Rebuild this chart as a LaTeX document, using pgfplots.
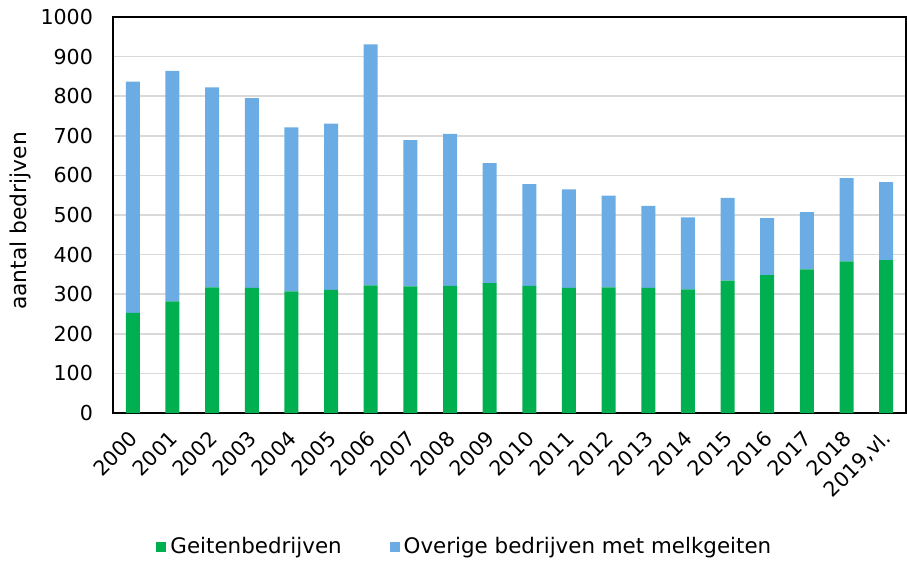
\documentclass[border=0pt]{standalone}
\usepackage{pgfplots}
\pgfplotsset{compat=1.18}
\usepackage{fontspec}
\setmainfont{DejaVu Sans}
\definecolor{geitgreen}{RGB}{0,176,80}
\definecolor{overblue}{RGB}{108,172,228}
\definecolor{gridgray}{RGB}{217,217,217}
\begin{document}
\begin{tikzpicture}
\begin{axis}[
  scale only axis,
  width=396.5pt, height=198pt,
  ybar stacked,
  bar width=7pt,
  xmin=-0.5, xmax=19.5,
  ymin=0, ymax=1000,
  ytick={0,100,...,1000},
  xtick=data,
  xticklabels={2000,2001,2002,2003,2004,2005,2006,2007,2008,2009,2010,2011,2012,2013,2014,2015,2016,2017,2018,{2019,vl.}},
  /pgf/number format/assume math mode=true,
  /pgf/number format/1000 sep={},
  major tick length=0pt,
  ymajorgrids,
  grid style={gridgray, line width=0.75pt},
  axis line style={black, line width=0.75pt},
  yticklabel style={font=\fontsize{10.3}{12}\selectfont, xshift=-6.5pt},
  xticklabel style={font=\fontsize{10.3}{12}\selectfont, xshift=3pt, yshift=-8.5pt, rotate=45, anchor=east},
  ylabel={aantal bedrijven},
  ylabel style={font=\fontsize{10.9}{13}\selectfont, at={(axis description cs:-0.117,0.485)}, anchor=center},
  legend columns=2,
  legend style={draw=none, font=\fontsize{10.7}{13}\selectfont, at={(axis description cs:0.445,0)}, anchor=center, yshift=-67pt, /tikz/every even column/.append style={column sep=22pt}},
  legend image code/.code={\draw[#1, draw=none] (0pt,-2.5pt) rectangle (5pt,2.5pt);},
]
\addplot[fill=geitgreen, draw=none] coordinates {
(0,253) (1,282) (2,317) (3,316) (4,307) (5,311) (6,322) (7,320) (8,321) (9,328)
(10,321) (11,316) (12,317) (13,316) (14,312) (15,334) (16,348) (17,363) (18,383) (19,386)};
\addplot[fill=overblue, draw=none] coordinates {
(0,584) (1,582) (2,505) (3,479) (4,414) (5,420) (6,609) (7,369) (8,384) (9,303)
(10,257) (11,249) (12,232) (13,207) (14,182) (15,209) (16,144) (17,144) (18,210) (19,197)};
\legend{Geitenbedrijven, Overige bedrijven met melkgeiten}
\end{axis}
\pgfresetboundingbox
\path[use as bounding box] (-56.5pt,-75pt) rectangle (397pt,206.5pt);
\end{tikzpicture}
\end{document}
